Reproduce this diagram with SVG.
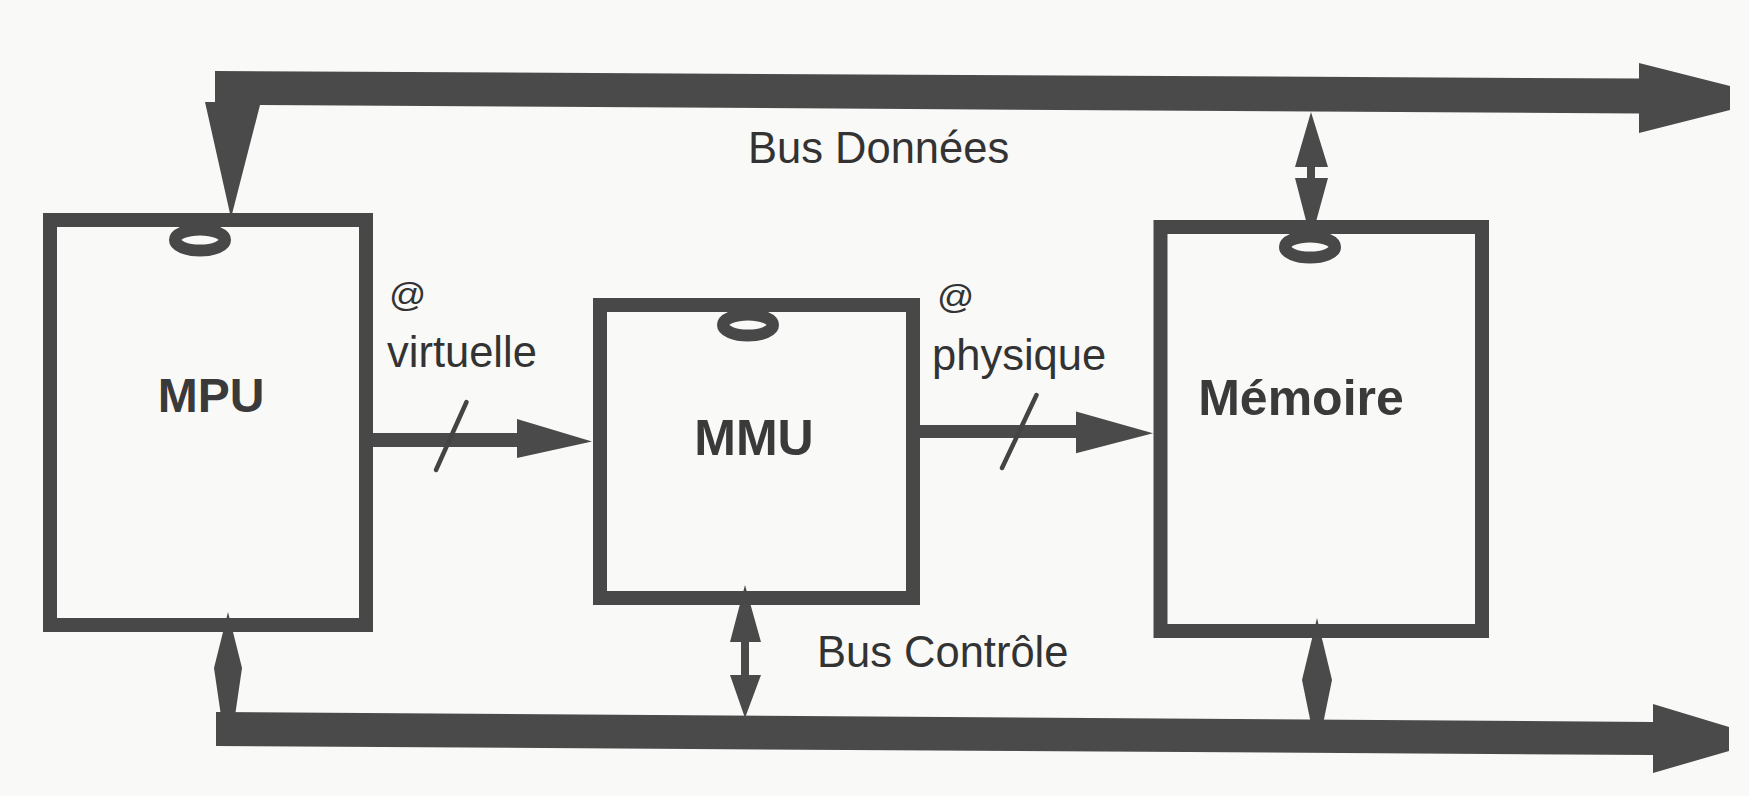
<svg xmlns="http://www.w3.org/2000/svg" width="1749" height="796" viewBox="0 0 1749 796">
<style>
.box{fill:none;stroke:#484848;stroke-width:14}
.ring{fill:none;stroke:#484848;stroke-width:12}
.ink{fill:#4a4a4a}
.slash{stroke:#444;stroke-width:4.5;stroke-linecap:round;fill:none}
.name{font-family:"Liberation Sans",Arial,sans-serif;font-weight:bold;fill:#3a3a3a;text-anchor:middle}
.lbl{font-family:"Liberation Sans",Arial,sans-serif;fill:#333;font-size:43.5px}
.at{font-family:"Liberation Sans",Arial,sans-serif;fill:#333;font-size:34px}
</style>
<rect x="0" y="0" width="1749" height="796" fill="#f9f9f7"/>

<g id="connectors">
  <!-- Bus Données (top) -->
  <polygon class="ink" points="215,71 1639,78.5 1639,63 1730,86 1730,110 1639,133 1639,113.5 260,105 231,218 205,102 215,102"/>
  <!-- Bus Contrôle (bottom) -->
  <polygon class="ink" points="216,712 1653,722 1653,704 1729,727 1729,751 1653,773 1653,755 216,746"/>
  <!-- MPU <-> bus contrôle -->
  <polygon class="ink" points="228,612 242,668 235,716 221,716 214,668"/>
  <!-- MMU <-> bus contrôle -->
  <polygon class="ink" points="745,585 761,642 749,642 749,675 761,675 745,718 730,675 741,675 741,642 730,642"/>
  <!-- Mémoire <-> bus contrôle -->
  <polygon class="ink" points="1317,618 1332,680 1323,724 1311,724 1302,680"/>
  <!-- Mémoire <-> bus données -->
  <polygon class="ink" points="1311,112 1328,167 1315,167 1315,178 1328,178 1311,240 1295,178 1307,178 1307,167 1295,167"/>
  <!-- MPU -> MMU : @ virtuelle -->
  <rect class="ink" x="370" y="433" width="150" height="14"/>
  <polygon class="ink" points="517,419 592,441.5 517,458"/>
  <line class="slash" x1="466.5" y1="402" x2="436" y2="470"/>
  <!-- MMU -> Mémoire : @ physique -->
  <rect class="ink" x="918" y="425" width="161" height="13"/>
  <polygon class="ink" points="1076,411.5 1153,433.3 1076,453.3"/>
  <line class="slash" x1="1036.5" y1="395" x2="1002" y2="468"/>
  <text class="lbl" x="748" y="163">Bus Données</text>
  <text class="lbl" x="817" y="667">Bus Contrôle</text>
  <text class="at" transform="translate(389,306) scale(1.08,1)">@</text>
  <text class="lbl" x="387" y="367">virtuelle</text>
  <text class="at" transform="translate(937,308) scale(1.08,1)">@</text>
  <text class="lbl" x="932" y="370">physique</text>
</g>

<g id="mpu">
  <rect class="box" x="50" y="220" width="316" height="405"/>
  <ellipse class="ring" cx="200" cy="240" rx="25" ry="10.5"/>
  <text class="name" x="211" y="412" font-size="48">MPU</text>
</g>

<g id="mmu">
  <rect class="box" x="600" y="305" width="313" height="293"/>
  <ellipse class="ring" cx="748" cy="325" rx="25" ry="10.5"/>
  <text class="name" x="754" y="455" font-size="50">MMU</text>
</g>

<g id="memoire">
  <rect class="box" x="1160.5" y="227" width="321.5" height="404"/>
  <ellipse class="ring" cx="1310" cy="247" rx="25" ry="10.5"/>
  <text class="name" x="1301" y="415" font-size="50">Mémoire</text>
</g>
</svg>
